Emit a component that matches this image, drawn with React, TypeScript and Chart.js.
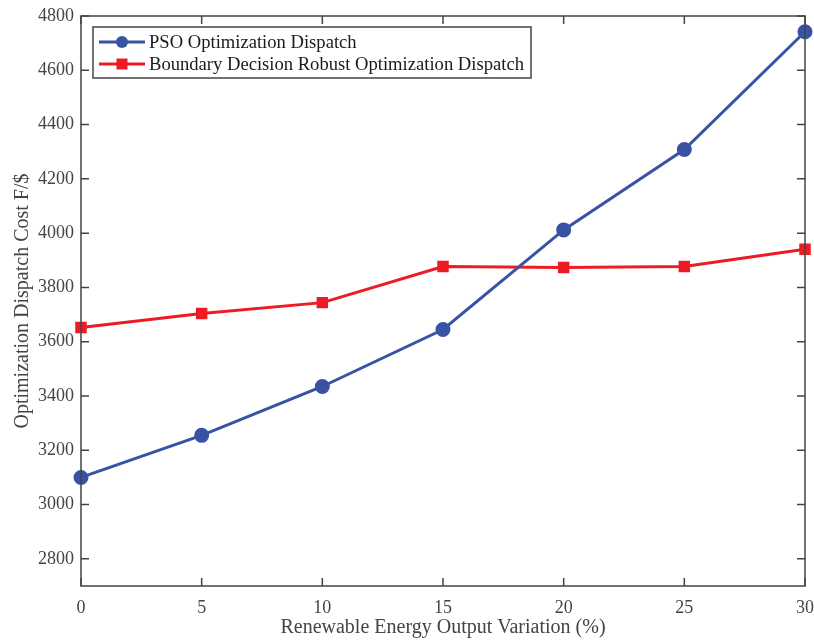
import React, { useEffect, useRef } from "react";
import { Chart, registerables } from "chart.js";

Chart.register(...registerables);

const variation = [0, 5, 10, 15, 20, 25, 30];
const psoCost = [3100, 3255, 3435, 3645, 4012, 4308, 4742];
const robustCost = [3652, 3704, 3744, 3877, 3873, 3877, 3941];
const yTicks = [2800, 3000, 3200, 3400, 3600, 3800, 4000, 4200, 4400, 4600, 4800];
const xTicks = [0, 5, 10, 15, 20, 25, 30];

const BLUE = "rgb(56,83,164)";
const RED = "rgb(237,28,36)";
const AXIS = "#444444";
const FONT = "'Liberation Serif', 'Times New Roman', serif";

const frameAndLegend = {
  id: "frameAndLegend",
  afterDatasetsDraw(chart: any) {
    const ctx = chart.ctx;
    const { left, right, top, bottom } = chart.chartArea;
    const xs = chart.scales.x;
    const ys = chart.scales.y;
    ctx.save();
    ctx.strokeStyle = AXIS;
    ctx.lineWidth = 1.5;
    ctx.strokeRect(left, top, right - left, bottom - top);
    const tl = 8;
    ctx.beginPath();
    for (const v of xTicks) {
      const px = xs.getPixelForValue(v);
      ctx.moveTo(px, bottom);
      ctx.lineTo(px, bottom - tl);
      ctx.moveTo(px, top);
      ctx.lineTo(px, top + tl);
    }
    for (const v of yTicks) {
      const py = ys.getPixelForValue(v);
      ctx.moveTo(left, py);
      ctx.lineTo(left + tl, py);
      ctx.moveTo(right, py);
      ctx.lineTo(right - tl, py);
    }
    ctx.stroke();

    // legend
    const bx = left + 12, by = top + 11, bw = 438, bh = 51;
    ctx.fillStyle = "#ffffff";
    ctx.fillRect(bx, by, bw, bh);
    ctx.lineWidth = 1.5;
    ctx.strokeStyle = AXIS;
    ctx.strokeRect(bx, by, bw, bh);
    const items = [
      { label: "PSO Optimization Dispatch", color: BLUE, shape: "circle", y: by + 15 },
      { label: "Boundary Decision Robust Optimization Dispatch", color: RED, shape: "square", y: by + 37 },
    ];
    ctx.font = `18.6px ${FONT}`;
    ctx.textBaseline = "middle";
    for (const it of items) {
      ctx.strokeStyle = it.color;
      ctx.lineWidth = 3;
      ctx.beginPath();
      ctx.moveTo(bx + 6, it.y);
      ctx.lineTo(bx + 52, it.y);
      ctx.stroke();
      ctx.fillStyle = it.color;
      const cx = bx + 29;
      if (it.shape === "circle") {
        ctx.beginPath();
        ctx.arc(cx, it.y, 6, 0, Math.PI * 2);
        ctx.fill();
      } else {
        ctx.fillRect(cx - 5.5, it.y - 5.5, 11, 11);
      }
      ctx.fillStyle = "#1a1a1a";
      ctx.textAlign = "left";
      ctx.fillText(it.label, bx + 56, it.y + 1);
    }
    ctx.restore();
  },
};

export default function App() {
  const ref = useRef<HTMLCanvasElement | null>(null);
  useEffect(() => {
    document.body.style.margin = "0";
    const canvas = ref.current!;
    const chart = new Chart(canvas, {
      type: "line",
      data: {
        labels: variation,
        datasets: [
          {
            label: "PSO Optimization Dispatch",
            data: variation.map((x, i) => ({ x, y: psoCost[i] })),
            borderColor: BLUE,
            backgroundColor: BLUE,
            borderWidth: 3,
            pointStyle: "circle",
            pointRadius: 6,
            pointHoverRadius: 6,
            clip: false as any,
          },
          {
            label: "Boundary Decision Robust Optimization Dispatch",
            data: variation.map((x, i) => ({ x, y: robustCost[i] })),
            borderColor: RED,
            backgroundColor: RED,
            borderWidth: 3,
            pointStyle: "rect",
            pointRadius: 6,
            pointHoverRadius: 6,
            clip: false as any,
          },
        ],
      },
      options: {
        animation: false,
        responsive: false,
        events: [],
        layout: { padding: { top: 16, right: 8, left: 0, bottom: 0 } },
        plugins: { legend: { display: false }, tooltip: { enabled: false } },
        scales: {
          x: {
            type: "linear",
            min: 0,
            max: 30,
            afterBuildTicks: (s: any) => {
              s.ticks = xTicks.map((v) => ({ value: v }));
            },
            afterFit: (s: any) => {
              s.height = 54;
              s.paddingLeft = 0;
              s.paddingRight = 0;
            },
            grid: { display: false, drawTicks: false },
            border: { display: false },
            ticks: {
              color: AXIS,
              font: { family: FONT, size: 18 },
              padding: 11,
              maxRotation: 0,
              autoSkip: false,
              callback: (v: any) => String(v),
            },
            title: {
              display: true,
              text: "Renewable Energy Output Variation (%)",
              color: AXIS,
              font: { family: FONT, size: 20 },
              padding: { top: 0, bottom: 0 },
            },
          },
          y: {
            type: "linear",
            min: 2700,
            max: 4800,
            afterBuildTicks: (s: any) => {
              s.ticks = yTicks.map((v) => ({ value: v }));
            },
            afterFit: (s: any) => {
              s.width = 81;
              s.paddingTop = 0;
              s.paddingBottom = 0;
            },
            grid: { display: false, drawTicks: false },
            border: { display: false },
            ticks: {
              color: AXIS,
              font: { family: FONT, size: 18 },
              padding: 7,
              autoSkip: false,
              callback: (v: any) => String(v),
            },
            title: {
              display: true,
              text: "Optimization Dispatch Cost F/$",
              color: AXIS,
              font: { family: FONT, size: 20 },
              padding: { top: 11, bottom: 0 },
            },
          },
        },
      },
      plugins: [frameAndLegend],
    });
    return () => chart.destroy();
  }, []);
  return (
    <div style={{ width: 814, height: 640 }}>
      <canvas ref={ref} width={814} height={640} style={{ display: "block" }} />
    </div>
  );
}
